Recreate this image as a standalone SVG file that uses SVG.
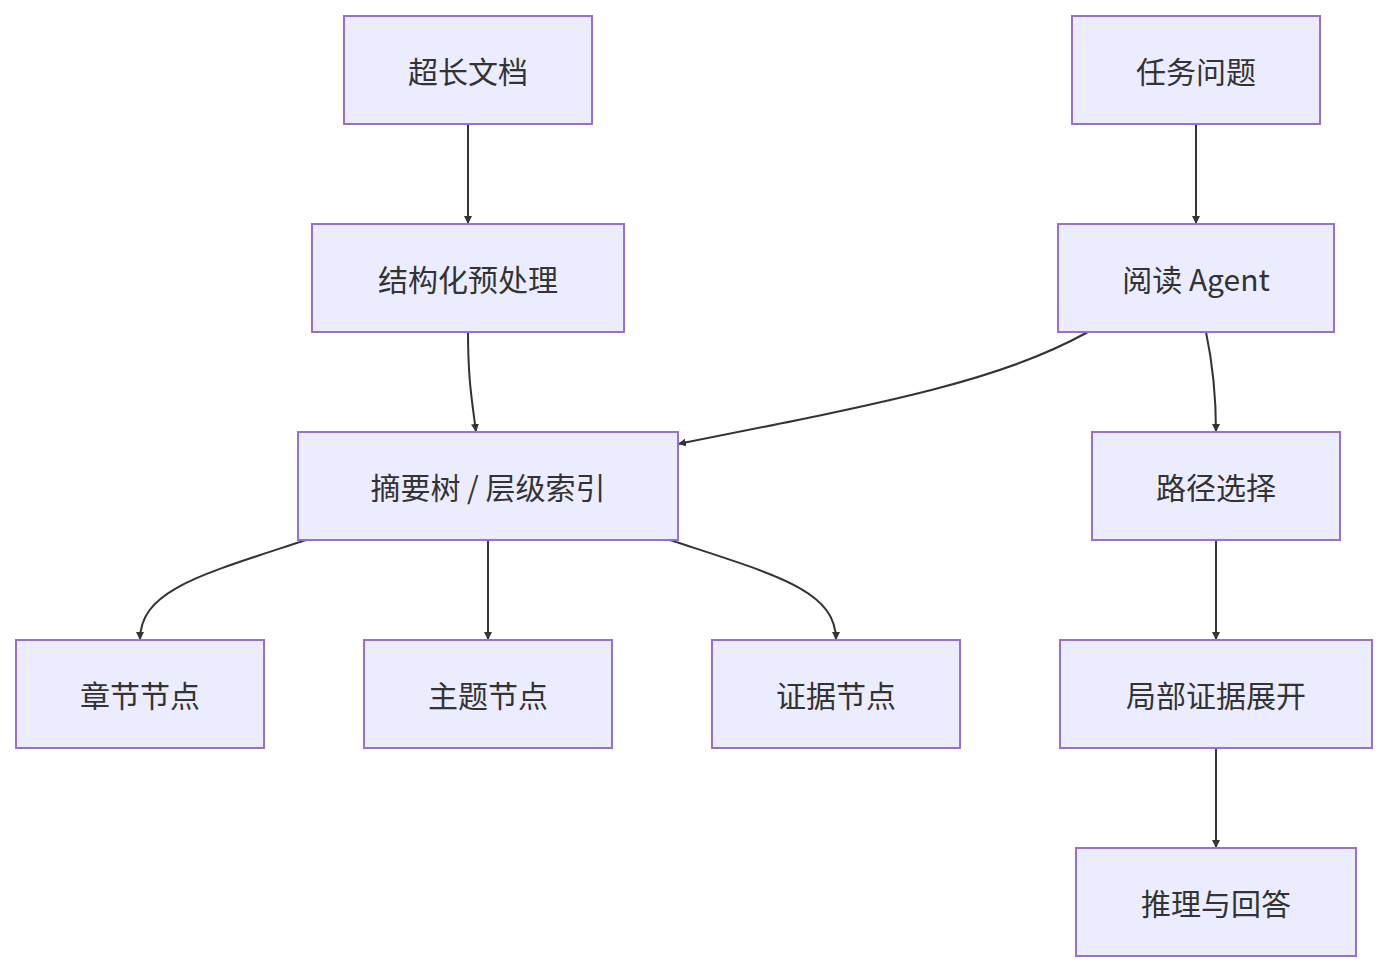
<svg xmlns="http://www.w3.org/2000/svg" width="1388" height="972" viewBox="0 0 1388 972">
<style>
.n rect{fill:#ECECFF;stroke:#9370DB;stroke-width:2}
.n text{font-family:"Noto Sans CJK SC","Noto Sans",sans-serif;font-size:30px;fill:#333;text-anchor:middle;dominant-baseline:central}
.e path{fill:none;stroke:#333;stroke-width:2;marker-end:url(#a)}
</style>
<defs><marker id="a" viewBox="0 0 10 10" refX="10" refY="5" markerWidth="8" markerHeight="8" orient="auto" markerUnits="userSpaceOnUse"><path d="M0,0L10,5L0,10z" fill="#333"/></marker></defs>
<rect width="1388" height="972" fill="#fff"/>
<g class="e">
<path d="M468,124V224"/>
<path d="M468,332C468,380 472,400 476,432"/>
<path d="M1196,124V224"/>
<path d="M1088,332C1000,380 900,400 678,444"/>
<path d="M1206,332C1214,370 1216,400 1216,432"/>
<path d="M306,540C200,575 140,590 140,640"/>
<path d="M488,540V640"/>
<path d="M670,540C776,575 836,590 836,640"/>
<path d="M1216,540V640"/>
<path d="M1216,748V848"/>
</g>
<g class="n" id="n1"><rect x="344" y="16" width="248" height="108"/><text x="468" y="70">超长文档</text></g>
<g class="n" id="n2"><rect x="1072" y="16" width="248" height="108"/><text x="1196" y="70">任务问题</text></g>
<g class="n" id="n3"><rect x="312" y="224" width="312" height="108"/><text x="468" y="278">结构化预处理</text></g>
<g class="n" id="n4"><rect x="1058" y="224" width="276" height="108"/><text x="1196" y="278">阅读 Agent</text></g>
<g class="n" id="n5"><rect x="298" y="432" width="380" height="108"/><text x="488" y="486">摘要树 / 层级索引</text></g>
<g class="n" id="n6"><rect x="1092" y="432" width="248" height="108"/><text x="1216" y="486">路径选择</text></g>
<g class="n" id="n7"><rect x="16" y="640" width="248" height="108"/><text x="140" y="694">章节节点</text></g>
<g class="n" id="n8"><rect x="364" y="640" width="248" height="108"/><text x="488" y="694">主题节点</text></g>
<g class="n" id="n9"><rect x="712" y="640" width="248" height="108"/><text x="836" y="694">证据节点</text></g>
<g class="n" id="n10"><rect x="1060" y="640" width="312" height="108"/><text x="1216" y="694">局部证据展开</text></g>
<g class="n" id="n11"><rect x="1076" y="848" width="280" height="108"/><text x="1216" y="902">推理与回答</text></g>
</svg>
